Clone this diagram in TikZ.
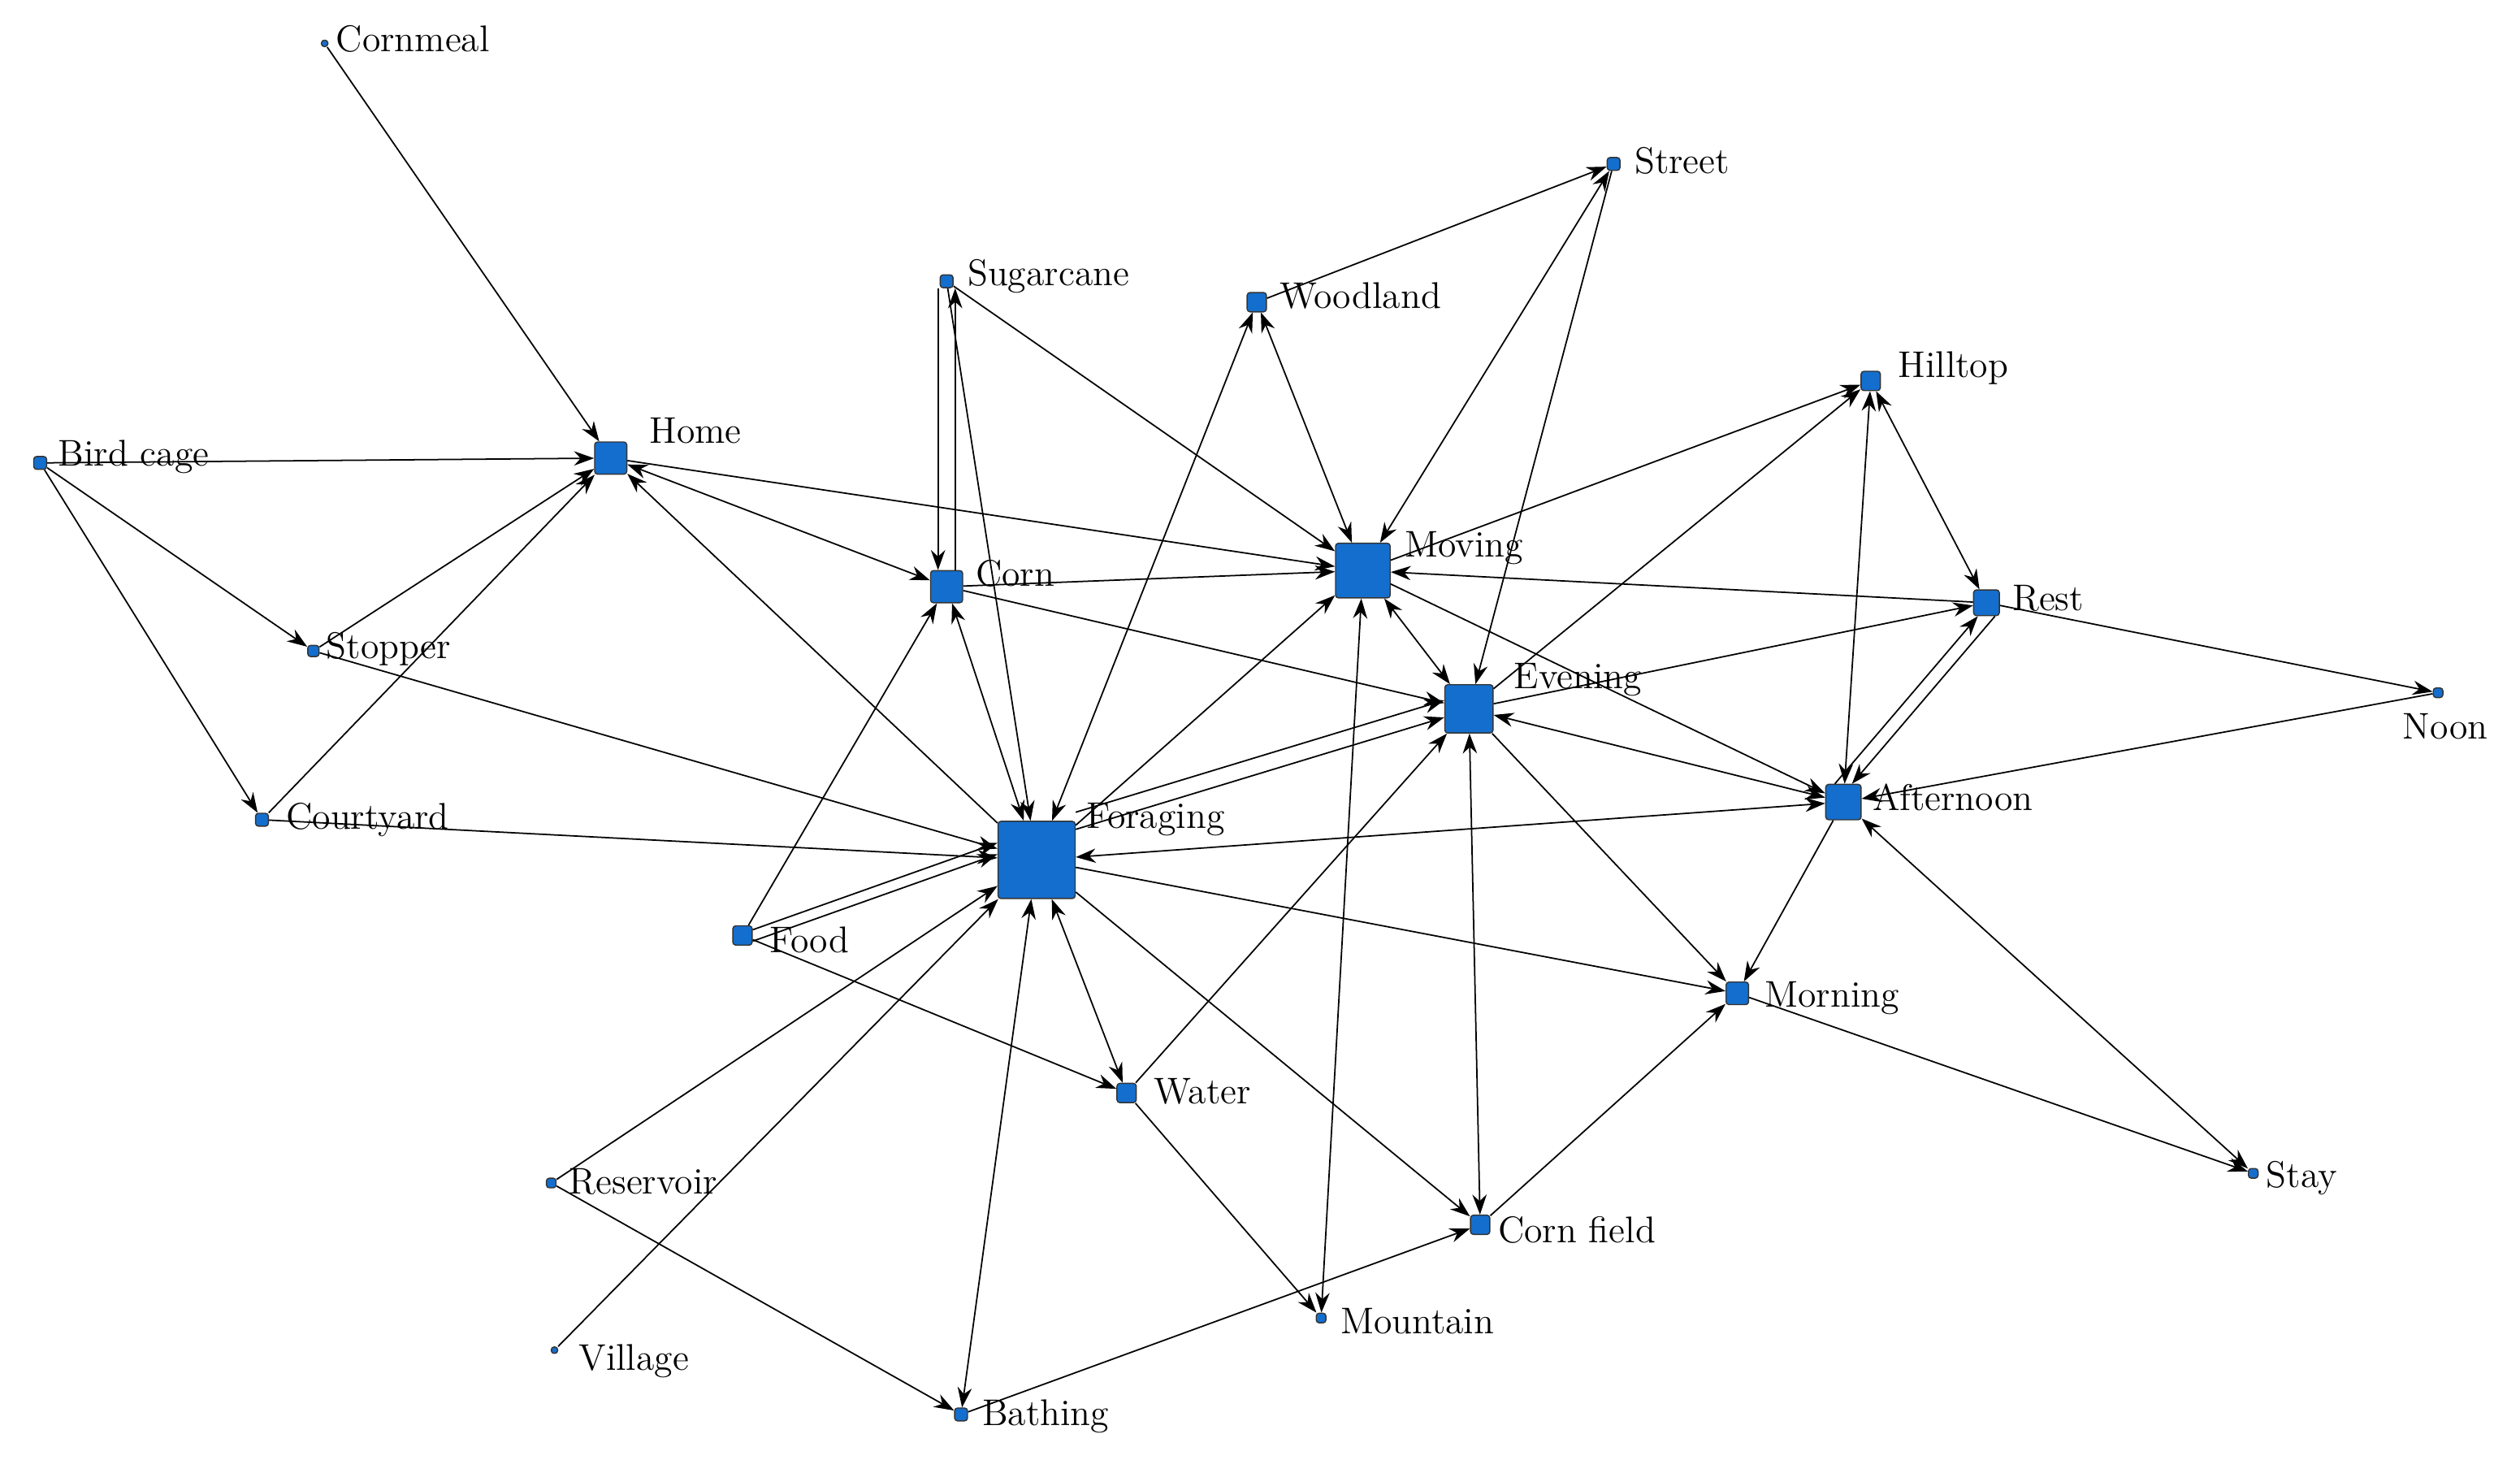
\documentclass[tikz,border=0pt]{standalone}
\usetikzlibrary{arrows.meta}
\begin{document}
\begin{tikzpicture}[x=0.01978cm,y=-0.01978cm,
 v/.style={draw=black!80,fill={rgb,255:red,20;green,110;blue,205},rounded corners=1pt,inner sep=0pt,line width=0.4pt},
 lab/.style={anchor=west,font=\fontsize{13}{15}\selectfont,inner sep=1pt},
 e/.style={-{Stealth[length=7pt,width=5pt]},line width=0.5pt},
 b/.style={{Stealth[length=7pt,width=5pt]}-{Stealth[length=7pt,width=5pt]},line width=0.5pt}]
\useasboundingbox (0,0) rectangle (1568,908);
\def\N#1#2#3#4{\node[v,minimum size=#4*0.01978cm] (#1) at (#2,#3) {};}
\N{cornmeal}{202}{27}{4}
\N{home}{380}{285}{20}
\N{birdcage}{25}{288}{8}
\N{stopper}{195}{405}{7}
\N{courtyard}{163}{510}{8}
\N{sugarcane}{589}{175}{8}
\N{corn}{589}{365}{20}
\N{food}{462}{582}{12}
\N{foraging}{645}{535}{48}
\N{woodland}{782}{188}{12}
\N{street}{1004}{102}{8}
\N{moving}{848}{355}{34}
\N{hilltop}{1164}{237}{12}
\N{rest}{1236}{375}{16}
\N{evening}{914}{441}{30}
\N{noon}{1517}{431}{6}
\N{afternoon}{1147}{499}{22}
\N{morning}{1081}{618}{14}
\N{water}{701}{680}{12}
\N{reservoir}{343}{736}{6}
\N{village}{345}{840}{4}
\N{bathing}{598}{880}{8}
\N{mountain}{822}{820}{6}
\N{cornfield}{921}{762}{12}
\N{stay}{1402}{730}{6}
\node[lab] (l1) at (207,24) {Cornmeal};
\node[lab] (l2) at (402,268) {Home};
\node[lab] (l3) at (34,284) {Bird cage};
\node[lab] (l4) at (201,404) {Stopper};
\node[lab] (l5) at (176,510) {Courtyard};
\node[lab] (l6) at (600,172) {Sugarcane};
\node[lab] (l7) at (605,357) {Corn};
\node[lab] (l8) at (477,585) {Food};
\node[lab] (l9) at (674,510) {Foraging};
\node[lab] (l10) at (794,184) {Woodland};
\node[lab] (l11) at (1015,100) {Street};
\node[lab] (l12) at (872,341) {Moving};
\node[lab] (l13) at (1179,229) {Hilltop};
\node[lab] (l14) at (1250,372) {Rest};
\node[lab] (l15) at (940,423) {Evening};
\node[lab] (l16) at (1493,452) {Noon};
\node[lab] (l17) at (1163,496) {Afternoon};
\node[lab] (l18) at (1096,621) {Morning};
\node[lab] (l19) at (716,679) {Water};
\node[lab] (l20) at (352,735) {Reservoir};
\node[lab] (l21) at (358,847) {Village};
\node[lab] (l22) at (609,881) {Bathing};
\node[lab] (l23) at (832,822) {Mountain};
\node[lab] (l24) at (930,765) {Corn field};
\node[lab] (l25) at (1408,733) {Stay};
\foreach \a/\b in {cornmeal/home,birdcage/home,birdcage/stopper,birdcage/courtyard,stopper/home,courtyard/home,
 stopper/foraging,courtyard/foraging,home/moving,foraging/home,sugarcane/moving,sugarcane/foraging,corn/moving,corn/evening,
 food/corn,food/water,foraging/moving,foraging/morning,foraging/cornfield,reservoir/foraging,village/foraging,reservoir/bathing,
 woodland/street,street/evening,moving/hilltop,rest/moving,moving/afternoon,evening/hilltop,evening/rest,evening/morning,
 water/evening,water/mountain,rest/noon,noon/afternoon,afternoon/morning,morning/stay,cornfield/morning,bathing/cornfield}
 \draw[e] (\a) -- (\b);
\foreach \a/\b in {home/corn,corn/foraging,foraging/woodland,foraging/afternoon,foraging/water,foraging/bathing,
 woodland/moving,street/moving,moving/evening,moving/mountain,evening/afternoon,evening/cornfield,hilltop/rest,
 hilltop/afternoon,afternoon/stay}
 \draw[b] (\a) -- (\b);
\draw[e] ([xshift=-3pt]sugarcane.south) -- ([xshift=-3pt]corn.north);
\draw[e] ([xshift=3pt]corn.north) -- ([xshift=3pt]sugarcane.south);
\draw[e] ([yshift=-2pt]food.east) -- ([yshift=2pt]foraging.west);
\draw[e] ([yshift=2pt]food.east) -- ([yshift=6pt]foraging.west);
\draw[e] ([yshift=-3pt]foraging.north east) -- ([yshift=-3pt]evening.west);
\draw[e] ([yshift=3pt]foraging.north east) -- ([yshift=3pt]evening.west);
\draw[e] ([xshift=-3pt]afternoon.north) -- ([xshift=-3pt]rest.south);
\draw[e] ([xshift=3pt]rest.south) -- ([xshift=3pt]afternoon.north);
\end{tikzpicture}
\end{document}
